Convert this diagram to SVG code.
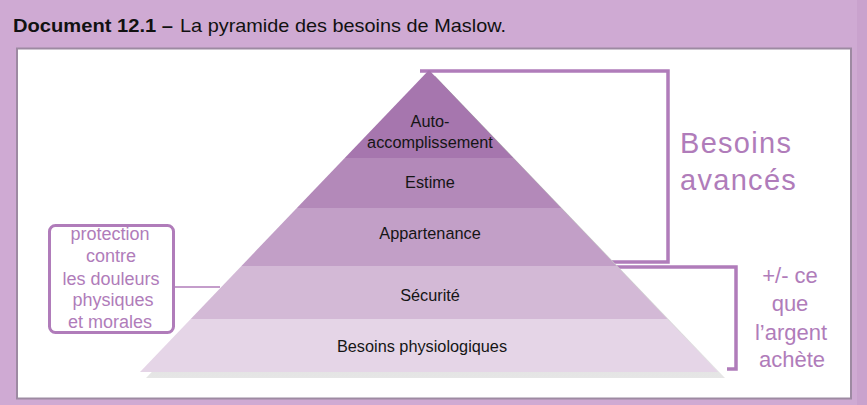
<svg xmlns="http://www.w3.org/2000/svg" width="867" height="405" viewBox="0 0 867 405">
<defs>
<style>
.title{font-family:"Liberation Sans","Open Sans",sans-serif;font-size:19px;fill:#111}
.lvl{font-family:"Liberation Sans",Arial,sans-serif;font-size:16.3px;fill:#151515;text-anchor:middle}
.note{font-family:"Liberation Sans",Arial,sans-serif;fill:#b07cba;text-anchor:middle}
.big{font-family:"Liberation Sans",Arial,sans-serif;fill:#b07cba;font-size:29px;letter-spacing:1.3px}
.br{fill:none;stroke:#b07cba;stroke-width:3.5}
</style>
<linearGradient id="shadow" x1="0" y1="0" x2="0" y2="1">
<stop offset="0" stop-color="#9a9a9a"/>
<stop offset="1" stop-color="#e6e6e6"/>
</linearGradient>
<clipPath id="pyr"><polygon points="429,70 718,372 140,372"/></clipPath>
</defs>
<rect x="0" y="0" width="867" height="405" fill="#cfaad3"/>
<rect x="857" y="0" width="10" height="405" fill="#c9a2cd"/>
<rect x="17" y="48.5" width="834" height="350" fill="#ffffff" stroke="#9d8aa2" stroke-width="2"/>
<text class="title" x="13" y="32"><tspan font-weight="bold" textLength="160" lengthAdjust="spacingAndGlyphs">Document 12.1 –</tspan><tspan x="180" textLength="326" lengthAdjust="spacingAndGlyphs">La pyramide des besoins de Maslow.</tspan></text>
<g id="connectors">
<path class="br" d="M420,71 H668 V262 H600"/>
<path class="br" d="M600,267 H736 V369 H727"/>
<line x1="174" y1="287" x2="220" y2="287" stroke="#b07cba" stroke-width="1.5"/>
</g>
<g id="pyramid">
<polygon points="435,76 725,378 146,378" fill="url(#shadow)"/>
<g clip-path="url(#pyr)">
<rect x="130" y="60" width="600" height="98" fill="#a676ae"/>
<rect x="130" y="158" width="600" height="50" fill="#b389b9"/>
<rect x="130" y="208" width="600" height="58" fill="#c29fc7"/>
<rect x="130" y="266" width="600" height="53" fill="#d3b9d6"/>
<rect x="130" y="319" width="600" height="53" fill="#e5d5e7"/>
</g>
</g>
<g id="auto"><text class="lvl" x="430" y="127">Auto-</text><text class="lvl" x="430" y="148">accomplissement</text></g>
<g id="estime"><text class="lvl" x="430" y="188">Estime</text></g>
<g id="appartenance"><text class="lvl" x="430" y="239">Appartenance</text></g>
<g id="securite"><text class="lvl" x="430" y="301">Sécurité</text></g>
<g id="physio"><text class="lvl" x="422" y="352">Besoins physiologiques</text></g>
<g id="avances"><text class="big" x="680" y="153">Besoins</text><text class="big" x="680" y="190">avancés</text></g>
<g id="argent" font-size="22"><text class="note" x="790" y="283">+/- ce</text><text class="note" x="790" y="311">que</text><text class="note" x="791" y="340">l’argent</text><text class="note" x="792" y="367">achète</text></g>
<g id="protection">
<rect x="49.5" y="225.5" width="124" height="107" rx="6" fill="#ffffff" stroke="#b07cba" stroke-width="3"/>
<g font-size="18"><text class="note" x="110" y="240">protection</text><text class="note" x="111" y="262">contre</text><text class="note" x="111" y="285">les douleurs</text><text class="note" x="113" y="306">physiques</text><text class="note" x="110" y="328">et morales</text></g>
</g>
</svg>
